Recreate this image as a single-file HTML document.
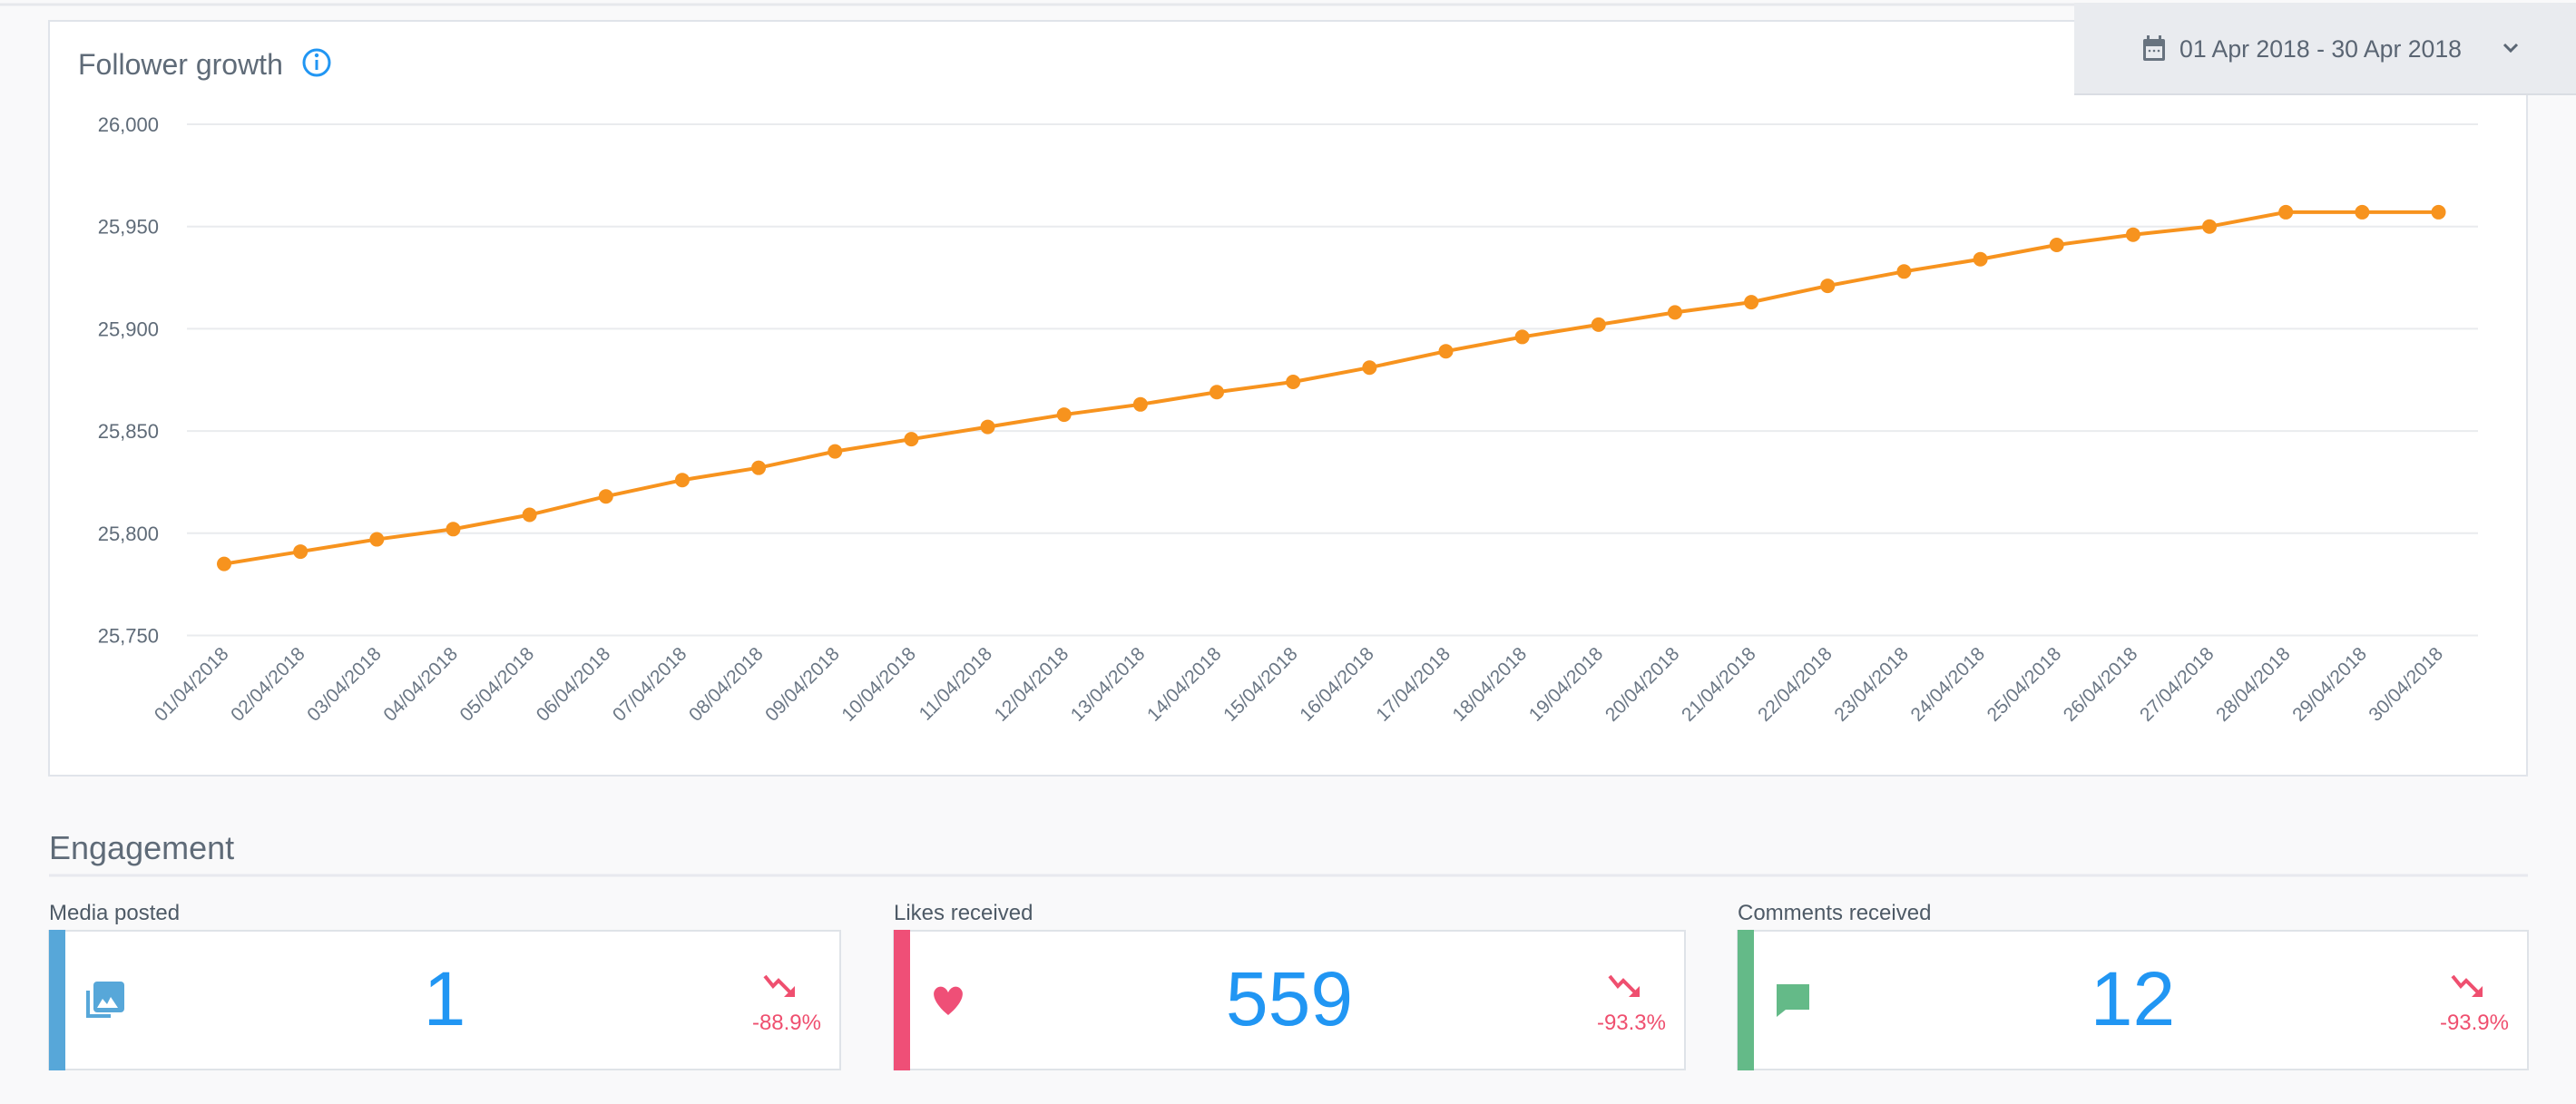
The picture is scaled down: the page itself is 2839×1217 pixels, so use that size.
<!DOCTYPE html>
<html><head><meta charset="utf-8"><style>
html,body{margin:0;padding:0;background:#f9f9fa;}
svg{display:block;font-family:"Liberation Sans",sans-serif;}
</style></head><body>
<svg id="root" width="2839" height="1217" viewBox="0 0 2839 1217" xmlns="http://www.w3.org/2000/svg">
<rect x="0" y="0" width="2839" height="1217" fill="#f9f9fa"/>
<line x1="0" y1="5" x2="2839" y2="5" stroke="#e6e8ec" stroke-width="3"/>
<g>
<rect x="54" y="23" width="2731" height="832" fill="#ffffff" stroke="#e0e4ea" stroke-width="2"/>
<text x="86" y="82" font-size="32" fill="#5f6b78">Follower growth</text>
<g><circle cx="349" cy="69" r="14" fill="none" stroke="#2196f3" stroke-width="3"/><circle cx="349" cy="61" r="2.2" fill="#2196f3"/><rect x="347.5" y="66" width="3" height="11" fill="#2196f3"/></g>
<g id="plot"></g>
</g>
<g>
<rect x="2286" y="3" width="560" height="101" fill="#e9ebef"/>
<line x1="2286" y1="104" x2="2839" y2="104" stroke="#dadde3" stroke-width="2"/>
<g><rect x="2362" y="43" width="24" height="24" rx="2" fill="#68737f"/><rect x="2365" y="51" width="18" height="13" fill="#e9ebef"/><rect x="2366" y="39" width="3" height="6" fill="#68737f"/><rect x="2379" y="39" width="3" height="6" fill="#68737f"/><circle cx="2369" cy="56" r="1.3" fill="#68737f"/><circle cx="2374" cy="56" r="1.3" fill="#68737f"/><circle cx="2379" cy="56" r="1.3" fill="#68737f"/></g>
<text x="2402" y="63" font-size="27" fill="#5a6573" textLength="311" lengthAdjust="spacingAndGlyphs">01 Apr 2018 - 30 Apr 2018</text>
<path d="M2760 49 L2767 56 L2774 49" fill="none" stroke="#5a6573" stroke-width="3"/>
</g>
<text x="54" y="947" font-size="36" fill="#5f6b78">Engagement</text>
<line x1="54" y1="965" x2="2786" y2="965" stroke="#e8e9ef" stroke-width="3"/>
<g id="cards"></g>
</svg>
<script>
const categories = ["01/04/2018","02/04/2018","03/04/2018","04/04/2018","05/04/2018","06/04/2018","07/04/2018","08/04/2018","09/04/2018","10/04/2018","11/04/2018","12/04/2018","13/04/2018","14/04/2018","15/04/2018","16/04/2018","17/04/2018","18/04/2018","19/04/2018","20/04/2018","21/04/2018","22/04/2018","23/04/2018","24/04/2018","25/04/2018","26/04/2018","27/04/2018","28/04/2018","29/04/2018","30/04/2018"];
const followers = [25785,25791,25797,25802,25809,25818,25826,25832,25840,25846,25852,25858,25863,25869,25874,25881,25889,25896,25902,25908,25913,25921,25928,25934,25941,25946,25950,25957,25957,25957];
const yTicks = [25750,25800,25850,25900,25950,26000];
const yTickLabels = ["25,750","25,800","25,850","25,900","25,950","26,000"];
const cardTitles = ["Media posted","Likes received","Comments received"];
const cardValues = ["1","559","12"];
const cardChanges = ["-88.9%","-93.3%","-93.9%"];

const NS="http://www.w3.org/2000/svg";
function mk(tag,attrs,parent){const e=document.createElementNS(NS,tag);for(const k in attrs)e.setAttribute(k,attrs[k]);parent.appendChild(e);return e;}
const plot=document.getElementById('plot');
const x0=247,x1=2687.5,yMin=25750,yMax=26000,py0=700.5,py1=137;
function xs(i){return x0+(x1-x0)*i/(categories.length-1);}
function ys(v){return py0+(py1-py0)*(v-yMin)/(yMax-yMin);}
yTicks.forEach((t,i)=>{
  const g=mk('line',{x1:206,x2:2731,y1:ys(t),y2:ys(t),stroke:'#e9ebee','stroke-width':2},plot);
  
  
  const l=mk('text',{x:175,y:ys(t)+8,'font-size':22,fill:'#5f6b78','text-anchor':'end'},plot);
  l.textContent=yTickLabels[i];
  
  
});
categories.forEach((c,i)=>{
  const t=mk('text',{x:xs(i)+6,y:722,'font-size':21,fill:'#6b7785','text-anchor':'end',transform:`rotate(-45 ${xs(i)+6} 722)`},plot);
  t.textContent=c;
  
  
});
const line=mk('polyline',{points:followers.map((v,i)=>xs(i)+','+ys(v)).join(' '),fill:'none',stroke:'#f7931e','stroke-width':4},plot);


followers.forEach((v,i)=>{
  const p=mk('circle',{cx:xs(i),cy:ys(v),r:8,fill:'#f7931e'},plot);
  
  
});
const cards=document.getElementById('cards');
const cx=[54,985,1915],cw=[872,872,871],colors=['#57a7d9','#ef4f77','#64ba88'];
cardTitles.forEach((title,i)=>{
  const lbl=mk('text',{x:cx[i],y:1014,'font-size':24,fill:'#4e5a66'},cards);
  lbl.textContent=title;
  
  
  const g=mk('g',{},cards);
  
  
  mk('rect',{x:cx[i],y:1026,width:cw[i],height:153,fill:'#fff',stroke:'#dfe3e8','stroke-width':2},g);
  mk('rect',{x:cx[i],y:1025,width:18,height:155,fill:colors[i]},g);
  const ix=cx[i]+43,iy=1102;
  if(i===0){mk('path',{d:`M${ix} ${iy-10} v28 h25`,fill:'none',stroke:colors[0],'stroke-width':4},g);mk('rect',{x:ix+6,y:iy-20,width:34,height:34,rx:4,fill:colors[0]},g);mk('path',{d:`M${ix+10} ${iy+9} l6 -10 l5 6 l4 -8 l8 12 z`,fill:'#fff'},g);}
  if(i===1){mk('path',{d:`M${ix+17} ${iy+17} C${ix} ${iy+3} ${ix} ${iy-7} ${ix+2} ${iy-10} C${ix+6} ${iy-17} ${ix+14} ${iy-15} ${ix+17} ${iy-8} C${ix+20} ${iy-15} ${ix+28} ${iy-17} ${ix+32} ${iy-10} C${ix+34} ${iy-7} ${ix+34} ${iy+3} ${ix+17} ${iy+17} z`,fill:colors[1]},g);}
  if(i===2){mk('path',{d:`M${ix} ${iy-17} h36 v28 h-26 l-10 8 z`,fill:colors[2]},g);}
  const v=mk('text',{x:cx[i]+cw[i]/2,y:1130,'font-size':84,fill:'#2196f3','text-anchor':'middle'},g);
  v.textContent=cardValues[i];
  
  
  const ax=cx[i]+cw[i]-83;
  mk('path',{d:`M${ax} 1076 l9 11 l6 -6 l14 14`,fill:'none',stroke:'#ef4f6f','stroke-width':4},g);
  mk('path',{d:`M${ax+33} 1099 l-12 0 l12 -12 z`,fill:'#ef4f6f'},g);
  const p=mk('text',{x:cx[i]+cw[i]-21,y:1135,'font-size':24,fill:'#ef4f6f','text-anchor':'end'},g);
  p.textContent=cardChanges[i];
  
  
});
</script>
</body></html>
